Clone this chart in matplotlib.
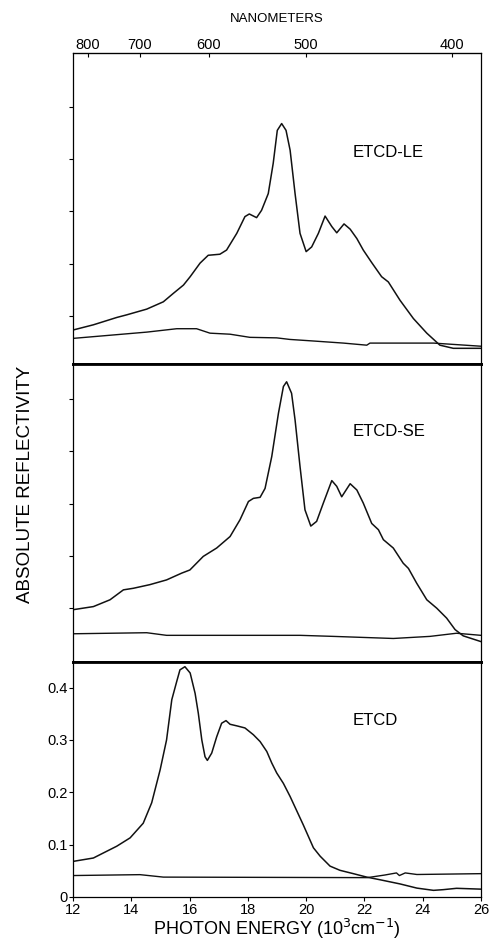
import numpy as np
import matplotlib
matplotlib.use("Agg")
import matplotlib.pyplot as plt

plt.rcParams['font.family'] = ['Liberation Sans', 'DejaVu Sans']

# ETCD-LE (top panel)
le_x = [12.0, 12.70, 13.50, 13.84, 14.53, 15.10, 15.44, 15.79, 16.02, 16.36, 16.64, 17.04,
        17.27, 17.62, 17.90, 18.05, 18.30, 18.47, 18.70, 18.87, 19.01, 19.16, 19.31, 19.45,
        19.62, 19.79, 20.00, 20.19, 20.42, 20.65, 20.88, 21.05, 21.30, 21.51, 21.74, 21.96,
        22.25, 22.59, 22.82, 23.22, 23.68, 24.14, 24.59, 25.05, 25.51, 26.0]
le_y = [0.073, 0.083, 0.097, 0.102, 0.113, 0.127, 0.143, 0.159, 0.175, 0.201, 0.216, 0.218,
        0.226, 0.258, 0.290, 0.295, 0.288, 0.302, 0.334, 0.392, 0.455, 0.468, 0.455, 0.417,
        0.334, 0.258, 0.223, 0.232, 0.258, 0.291, 0.271, 0.259, 0.276, 0.266, 0.248, 0.226,
        0.202, 0.175, 0.165, 0.130, 0.095, 0.067, 0.044, 0.038, 0.038, 0.038]
le_base_x = [12.0, 14.53, 15.56, 16.24, 16.70, 17.39, 18.07, 18.99, 19.44, 20.25, 21.28,
             22.08, 22.19, 23.22, 24.37, 26.0]
le_base_y = [0.057, 0.069, 0.0755, 0.0755, 0.067, 0.065, 0.059, 0.058, 0.055, 0.052, 0.048,
             0.044, 0.048, 0.048, 0.048, 0.042]

# ETCD-SE (middle panel)
se_x = [12.0, 12.70, 13.27, 13.73, 14.07, 14.64, 15.21, 15.73, 16.01, 16.47, 16.93, 17.39,
        17.73, 18.02, 18.19, 18.42, 18.59, 18.82, 19.05, 19.22, 19.33, 19.50, 19.62, 19.79,
        19.96, 20.16, 20.36, 20.59, 20.88, 21.05, 21.22, 21.51, 21.74, 21.96, 22.25, 22.48,
        22.65, 22.99, 23.33, 23.51, 23.79, 24.14, 24.48, 24.82, 25.11, 25.39, 26.0]
se_y = [0.097, 0.103, 0.116, 0.135, 0.138, 0.145, 0.154, 0.167, 0.173, 0.199, 0.215, 0.237,
        0.269, 0.304, 0.310, 0.312, 0.329, 0.390, 0.473, 0.524, 0.533, 0.511, 0.460, 0.371,
        0.288, 0.257, 0.266, 0.301, 0.344, 0.333, 0.313, 0.338, 0.326, 0.301, 0.262, 0.250,
        0.231, 0.215, 0.186, 0.176, 0.148, 0.116, 0.100, 0.081, 0.059, 0.047, 0.036]
se_base_x = [12.0, 14.53, 15.21, 19.79, 20.93, 22.99, 24.25, 25.16, 26.0]
se_base_y = [0.051, 0.053, 0.048, 0.048, 0.046, 0.042, 0.046, 0.052, 0.048]

# ETCD (bottom panel, labelled axis)
e_x = [12.0, 12.70, 12.93, 13.50, 13.96, 14.41, 14.70, 14.99, 15.21, 15.39, 15.56, 15.67,
       15.84, 16.02, 16.19, 16.30, 16.42, 16.53, 16.61, 16.76, 16.93, 17.10, 17.25, 17.39,
       17.62, 17.90, 18.19, 18.42, 18.65, 18.82, 18.99, 19.22, 19.45, 19.90, 20.25, 20.48,
       20.82, 21.16, 21.62, 22.08, 22.53, 23.22, 23.80, 24.37, 24.70, 25.16, 26.0]
e_y = [0.068, 0.0745, 0.081, 0.097, 0.113, 0.141, 0.180, 0.243, 0.300, 0.377, 0.412, 0.434,
       0.440, 0.428, 0.389, 0.351, 0.300, 0.268, 0.261, 0.275, 0.306, 0.332, 0.337, 0.330,
       0.327, 0.323, 0.310, 0.297, 0.278, 0.256, 0.237, 0.217, 0.192, 0.138, 0.094, 0.078,
       0.059, 0.051, 0.0446, 0.038, 0.033, 0.025, 0.017, 0.0127, 0.014, 0.0166, 0.015]
e_base_x = [12.0, 14.30, 15.10, 22.10, 22.70, 23.10, 23.20, 23.40, 23.80, 26.0]
e_base_y = [0.041, 0.0427, 0.038, 0.037, 0.042, 0.046, 0.041, 0.046, 0.043, 0.0446]

panel_labels = ['ETCD-LE', 'ETCD-SE', 'ETCD']
nm_ticks = [800, 700, 600, 500, 400]
y_ticks = [0, 0.1, 0.2, 0.3, 0.4]

fig = plt.figure(figsize=(4.9, 9.39), dpi=100)
left, width = 73 / 490, 408 / 490
H = 939.0
ax1 = fig.add_axes([left, 1 - 364 / H, width, 311 / H])
ax2 = fig.add_axes([left, 1 - 662 / H, width, 298 / H])
ax3 = fig.add_axes([left, 1 - 897 / H, width, 235 / H])

lc = '#111111'
ax1.plot(le_x, le_y, color=lc, lw=1.1)
ax1.plot(le_base_x, le_base_y, color=lc, lw=1.0)
ax2.plot(se_x, se_y, color=lc, lw=1.1)
ax2.plot(se_base_x, se_base_y, color=lc, lw=1.0)
ax3.plot(e_x, e_y, color=lc, lw=1.1)
ax3.plot(e_base_x, e_base_y, color=lc, lw=1.0)

ax1.set_ylim(0.008, 0.603)
ax2.set_ylim(-0.003, 0.567)
ax3.set_ylim(0, 0.449)

for ax, lab, ty in zip([ax1, ax2, ax3], panel_labels, [0.68, 0.772, 0.753]):
    ax.set_xlim(12, 26)
    ax.text(0.686, ty, lab, transform=ax.transAxes, fontsize=12, ha='left', va='center')
    for s in ax.spines.values():
        s.set_linewidth(0.9)
    ax.tick_params(direction='out', length=3, width=0.8, labelsize=10.5)

ax1.spines['bottom'].set_linewidth(2.0)
ax2.spines['top'].set_linewidth(2.0)
ax2.spines['bottom'].set_linewidth(2.0)
ax3.spines['top'].set_linewidth(2.0)

for ax in [ax1, ax2]:
    ax.set_yticks([0.1, 0.2, 0.3, 0.4, 0.5])
    ax.set_yticklabels([])
    ax.set_xticks([])

ax3.set_yticks(y_ticks)
ax3.set_yticklabels(['0', '0.1', '0.2', '0.3', '0.4'])
ax3.set_xticks(range(12, 27, 2))
ax3.tick_params(axis='x', pad=1)
ax3.tick_params(axis='y', pad=1)
ax3.set_xlabel('PHOTON ENERGY (10$^3$cm$^{-1}$)', fontsize=13, labelpad=0)

top = ax1.secondary_xaxis('top', functions=(lambda x: 1e4 / np.maximum(x, 1e-9),
                                            lambda w: 1e4 / np.maximum(w, 1e-9)))
top.set_xticks(nm_ticks)
top.set_xticklabels([str(n) for n in nm_ticks])
top.tick_params(direction='in', length=3, width=0.8, labelsize=10.5, pad=1)
top.set_xlabel('NANOMETERS', fontsize=9.5, labelpad=11)

fig.text(26 / 490, 1 - 484 / H, 'ABSOLUTE REFLECTIVITY', rotation=90,
         ha='center', va='center', fontsize=13.5)

fig.savefig('out.png', dpi=100)
